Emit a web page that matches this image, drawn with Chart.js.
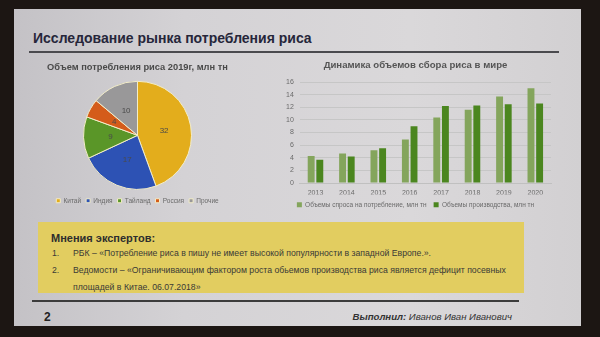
<!DOCTYPE html>
<html>
<head>
<meta charset="utf-8">
<script src="https://cdn.jsdelivr.net/npm/chart.js@4/dist/chart.umd.min.js"></script>
<style>
  html, body { margin: 0; padding: 0; }
  body { width: 600px; height: 337px; background: #1c1613; position: relative; overflow: hidden;
         font-family: "Liberation Sans", Arial, sans-serif; }
  #slide { position: absolute; left: 14px; top: 9px; width: 567px; height: 317px;
           background: linear-gradient(90deg, #c4c2c6 0%, #d4d2d5 30%, #dad8da 70%, #d2d0d2 100%); }
  .abs { position: absolute; white-space: nowrap; }
  #title { left: 19px; top: 21px; font-size: 14px; font-weight: bold; color: #26263a; }
  #rule1 { left: 15px; top: 42px; width: 530px; height: 2px; background: #4a4a4e; }
  #box { left: 24px; top: 213px; width: 486px; height: 71px; background: #e2cd60; }
  #box .h { left: 13px; top: 10px; font-size: 11px; font-weight: bold; color: #2e2e2e; }
  #box .n { font-size: 8.7px; color: #3a3a36; }
  #rule2 { left: 18px; top: 291px; width: 487px; height: 2px; background: #3c3c3c; }
  #page { left: 30px; top: 301px; font-size: 12px; font-weight: bold; color: #222; }
  #author { right: 69px; top: 302px; font-size: 9.6px; font-style: italic; color: #333; }
  canvas { position: absolute; }
</style>
</head>
<body>
<div id="slide">
  <div class="abs" id="title">Исследование рынка потребления риса</div>
  <div class="abs" id="rule1"></div>
  <div class="abs" id="box">
    <div class="abs h">Мнения экспертов:</div>
    <div class="abs n" style="left:14px;top:26px">1.</div>
    <div class="abs n" style="left:35px;top:26px">РБК – «Потребление риса в пишу не имеет высокой популярности в западной Европе.».</div>
    <div class="abs n" style="left:14px;top:43px">2.</div>
    <div class="abs n" style="left:35px;top:43px">Ведомости – «Ограничивающим фактором роста обьемов производства риса является дефицит посевных</div>
    <div class="abs n" style="left:35px;top:60px">площадей в Китае. 06.07.2018»</div>
  </div>
  <div class="abs" id="rule2"></div>
  <div class="abs" id="page">2</div>
  <div class="abs" id="author"><b>Выполнил:</b> Иванов Иван Иванович</div>
</div>
<canvas id="pieChart" width="205" height="157" style="left:35px;top:57px"></canvas>
<canvas id="barChart" width="298" height="163" style="left:272px;top:55px"></canvas>
<script>
// rice consumption by country, 2019, mln t
const pieLabels = ['Китай', 'Индия', 'Тайланд', 'Россия', 'Прочие'];
const pieValues = [32, 17, 9, 4, 10];
const pieColors = ['#e3ad1c', '#2d52b4', '#5a9628', '#d45c1a', '#999899'];

// world harvest dynamics
const years = ['2013', '2014', '2015', '2016', '2017', '2018', '2019', '2020'];
const demand = [4.3, 4.7, 5.2, 6.9, 10.4, 11.6, 13.7, 15.0];
const production = [3.7, 4.2, 5.5, 9.0, 12.2, 12.3, 12.5, 12.6];

const FONT = '"Liberation Sans", Arial, sans-serif';

// draws each slice's value in the middle of the slice
const sliceValues = {
    id: 'sliceValues',
    afterDatasetsDraw(chart) {
        const ctx = chart.ctx;
        const meta = chart.getDatasetMeta(0);
        const values = chart.data.datasets[0].data;
        ctx.save();
        ctx.font = '8px ' + FONT;
        ctx.fillStyle = '#4a4a4a';
        ctx.textAlign = 'center';
        ctx.textBaseline = 'middle';
        meta.data.forEach(function(arc, i) {
            const pos = arc.tooltipPosition();
            ctx.fillText(String(values[i]), pos.x, pos.y);
        });
        ctx.restore();
    }
};

new Chart(document.getElementById('pieChart').getContext('2d'), {
    type: 'pie',
    data: {
        labels: pieLabels,
        datasets: [{
            data: pieValues,
            backgroundColor: pieColors,
            borderColor: '#f2ecc8',
            borderWidth: 1
        }]
    },
    options: {
        responsive: false,
        animation: false,
        radius: 54,
        plugins: {
            title: {
                display: true,
                text: 'Объем потребления риса 2019г, млн тн',
                color: '#4a4a4a',
                font: { family: FONT, size: 9.3, weight: 'bold' },
                padding: { top: 5, bottom: 5 }
            },
            legend: {
                position: 'bottom',
                labels: {
                    color: '#6a6a6a',
                    font: { family: FONT, size: 6.5 },
                    boxWidth: 4,
                    boxHeight: 4,
                    padding: 5
                }
            },
            tooltip: { enabled: false }
        }
    },
    plugins: [sliceValues]
});

new Chart(document.getElementById('barChart').getContext('2d'), {
    type: 'bar',
    data: {
        labels: years,
        datasets: [{
            label: 'Объемы спроса на потребление, млн тн',
            data: demand,
            backgroundColor: '#84a55c',
            barPercentage: 0.8,
            categoryPercentage: 0.55
        }, {
            label: 'Объемы производства, млн тн',
            data: production,
            backgroundColor: '#4b861f',
            barPercentage: 0.8,
            categoryPercentage: 0.55
        }]
    },
    options: {
        responsive: false,
        animation: false,
        layout: { padding: { left: 8, right: 19 } },
        plugins: {
            title: {
                display: true,
                text: 'Динамика объемов сбора риса в мире',
                color: '#555555',
                font: { family: FONT, size: 9.6, weight: 'bold' },
                padding: { top: 5, bottom: 10.5 }
            },
            legend: {
                position: 'bottom',
                labels: {
                    color: '#6a6a6a',
                    font: { family: FONT, size: 6.5 },
                    boxWidth: 5,
                    boxHeight: 5,
                    padding: 7
                }
            },
            tooltip: { enabled: false }
        },
        scales: {
            x: {
                grid: { display: false, drawTicks: false },
                border: { color: '#c0c0c0' },
                ticks: { color: '#6a6a6a', font: { family: FONT, size: 7 }, padding: 6 },
                // pull the legend closer to the year labels
                afterFit: function(scale) { scale.height -= 9; }
            },
            y: {
                min: 0,
                max: 16,
                ticks: { stepSize: 2, color: '#6a6a6a', font: { family: FONT, size: 7 }, padding: 6 },
                grid: { color: '#c6c6c6', drawTicks: false },
                border: { display: false }
            }
        }
    }
});
</script>
</body>
</html>
